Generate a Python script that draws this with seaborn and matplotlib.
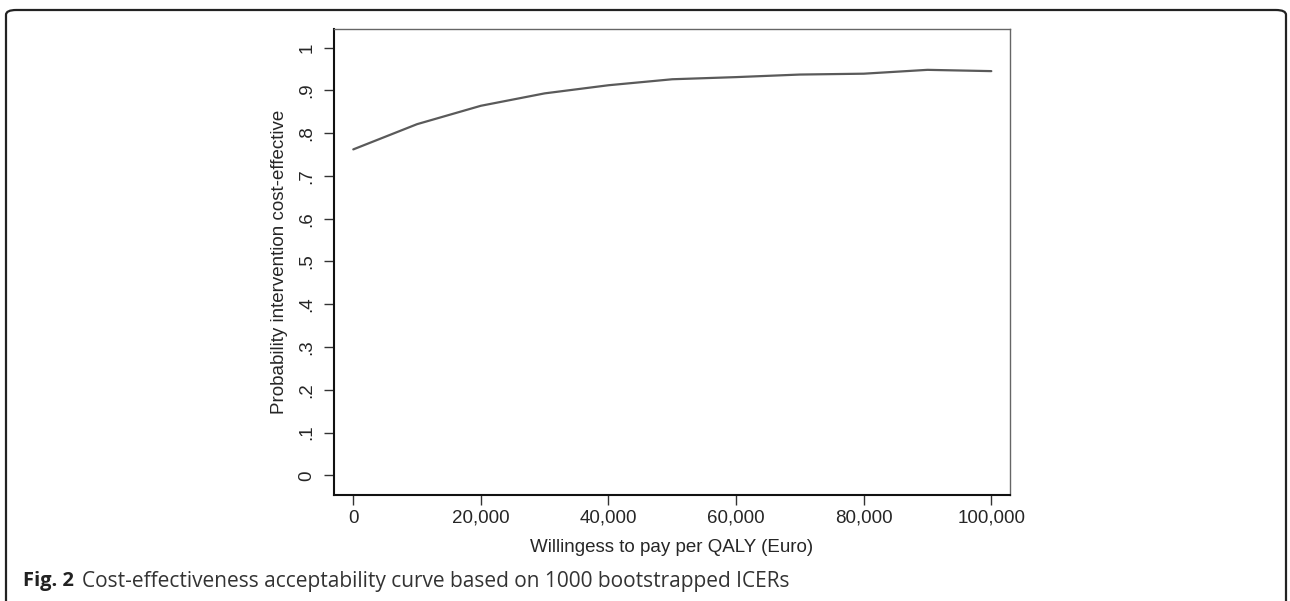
import matplotlib
matplotlib.use("Agg")
import matplotlib.pyplot as plt
import seaborn as sns
import pandas as pd
from matplotlib.patches import FancyBboxPatch

# data
wtp = [0, 10000, 20000, 30000, 40000, 50000, 60000, 70000, 80000, 90000, 100000]
prob = [0.762, 0.821, 0.864, 0.893, 0.912, 0.926, 0.931, 0.937, 0.939, 0.948, 0.945]

xticks = [0, 20000, 40000, 60000, 80000, 100000]
xticklabels = ["0", "20,000", "40,000", "60,000", "80,000", "100,000"]
yticks = [0, .1, .2, .3, .4, .5, .6, .7, .8, .9, 1]
yticklabels = ["0", ".1", ".2", ".3", ".4", ".5", ".6", ".7", ".8", ".9", "1"]

df = pd.DataFrame({"wtp": wtp, "prob": prob})

sns.set_style("white")
plt.rcParams['font.family'] = ['Liberation Sans', 'DejaVu Sans']

fig = plt.figure(figsize=(12.9, 6.01), dpi=100)
W, H = 1290, 601

# rounded outer frame of the figure box
frame = FancyBboxPatch((6 / W, -20 / H), 1280 / W, (H - 10 + 20) / H,
                       boxstyle="round,pad=0,rounding_size=0.008",
                       transform=fig.transFigure, fill=False,
                       edgecolor="#222222", linewidth=1.6, clip_on=False)
fig.patches.append(frame)

ax = fig.add_axes([333.7 / W, 1 - 494.7 / H, (1010 - 333.7) / W, (494.7 - 29) / H])
sns.lineplot(data=df, x="wtp", y="prob", ax=ax, color="#5a5a5a", linewidth=1.6)

ax.set_xlim(-3070, 102930)
ax.set_ylim(-0.0454, 1.0435)
ax.set_xticks(xticks)
ax.set_xticklabels(xticklabels, fontsize=13.5)
ax.set_yticks(yticks)
ax.set_yticklabels(yticklabels, fontsize=13.5, rotation=90, va="center")
ax.tick_params(axis="both", direction="out", length=7, width=1, color="#333333")
ax.tick_params(axis="x", pad=4)
ax.tick_params(axis="y", pad=6)
ax.tick_params(axis="both", bottom=True, left=True)

for s in ["left", "bottom"]:
    ax.spines[s].set_color("#111111")
    ax.spines[s].set_linewidth(1.5)
for s in ["top", "right"]:
    ax.spines[s].set_color("#666666")
    ax.spines[s].set_linewidth(1.0)

ax.set_xlabel("Willingess to pay per QALY (Euro)", fontsize=13.5, labelpad=9)
ax.set_ylabel("Probability intervention cost-effective", fontsize=13.5, labelpad=8)

# caption below the chart
fig.text(23 / W, 1 - 581 / H, "Fig. 2", fontsize=14.5, fontweight="bold",
         family=["Open Sans", "DejaVu Sans"], color="#222222", va="center")
fig.text(82 / W, 1 - 581 / H, "Cost-effectiveness acceptability curve based on 1000 bootstrapped ICERs",
         fontsize=15, family=["Open Sans", "DejaVu Sans"], color="#333333", va="center")

fig.savefig("out.png", dpi=100)
